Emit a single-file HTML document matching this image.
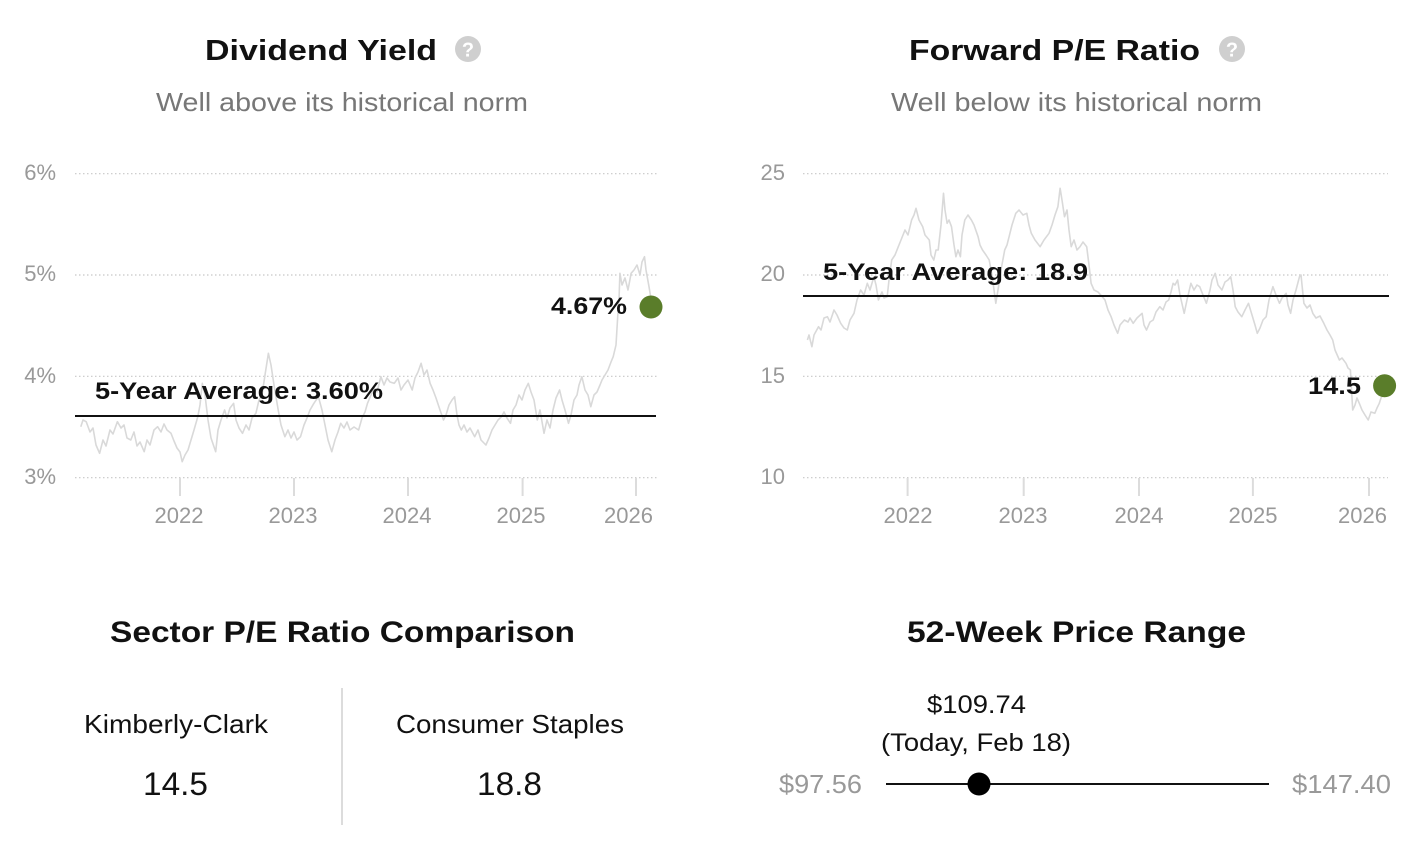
<!DOCTYPE html>
<html>
<head>
<meta charset="utf-8">
<style>
html,body{margin:0;padding:0;background:#fff;}
svg{display:block;}
text{font-family:"Liberation Sans",sans-serif;}
</style>
</head>
<body>
<svg width="1416" height="852" viewBox="0 0 1416 852" xmlns="http://www.w3.org/2000/svg">
<rect width="1416" height="852" fill="#fff"/>

<!-- ===== Left: Dividend Yield ===== -->
<text x="205" y="60" font-size="29" font-weight="bold" fill="#111" textLength="232" lengthAdjust="spacingAndGlyphs">Dividend Yield</text>
<circle cx="468" cy="49" r="13" fill="#cfcfcf"/>
<text x="468" y="56.5" font-size="20" font-weight="bold" fill="#fff" text-anchor="middle">?</text>
<text x="156" y="111" font-size="26" fill="#777" textLength="372" lengthAdjust="spacingAndGlyphs">Well above its historical norm</text>

<g stroke="#c8c8c8" stroke-width="1.2" stroke-dasharray="1.5 2.5">
<line x1="75" y1="173.7" x2="657" y2="173.7"/>
<line x1="75" y1="275" x2="657" y2="275"/>
<line x1="75" y1="376.3" x2="657" y2="376.3"/>
<line x1="75" y1="477.7" x2="657" y2="477.7"/>
</g>
<g font-size="22" fill="#999" text-anchor="end">
<text x="56" y="180">6%</text>
<text x="56" y="281">5%</text>
<text x="56" y="383">4%</text>
<text x="56" y="484">3%</text>
</g>
<g stroke="#dcdcdc" stroke-width="2">
<line x1="180" y1="478" x2="180" y2="496"/>
<line x1="294" y1="478" x2="294" y2="496"/>
<line x1="408" y1="478" x2="408" y2="496"/>
<line x1="522.6" y1="478" x2="522.6" y2="496"/>
<line x1="636" y1="478" x2="636" y2="496"/>
</g>
<g font-size="22" fill="#999" text-anchor="middle">
<text x="179" y="523">2022</text>
<text x="293" y="523">2023</text>
<text x="407" y="523">2024</text>
<text x="521" y="523">2025</text>
<text x="628.5" y="523">2026</text>
</g>
<polyline fill="none" stroke="#d9d9d9" stroke-width="1.6" stroke-linejoin="round" points="80.8,426.7 83,420 86.2,421.7 90,432 93,428 96,445 99.6,453.3 103,440 106,446 110,430 113,434 117.4,421.7 121,428 124,425 127,438 130.8,440 134,432 137,446 140,442 144.2,451.7 147,440 150,445 154,430 157.6,426.7 161,432 164,424 167,430 171,433.3 174,441 177,448 180,452 182.2,461.7 185,455 188,450 191,440 194,430 197.8,416.7 200,405 202.3,383.3 205,395 208,420 211,438 215.7,451.7 218,430 221,420 224.6,410 227,418 230,408 233.6,403.3 236,420 239,428 242.5,433.3 246,425 249,430 252,418 255.9,413.3 259,400 262,395 265,375 268.4,353.3 271,365 274,385 278.2,410 281,425 284.9,436.7 288,430 291,438 294,432 297,440 300.5,436.7 304,425 307,418 310,410 313.9,403.3 318.4,396.7 322,410 325,425 328,440 331.8,451.7 335,440 338,432 340.7,423.3 344,428 347,422 350,430 354,427 358.6,430 362,418 365,412 367.5,403.3 371,395 374,388 377,392 380.9,376.7 384,385 387,378 390,382 394.3,383.3 398,378 401,390 404,385 408,380 412.2,390 415,378 418,372 421.1,363.3 424,375 427,370 430.1,383.3 433,390 436,398 440,410 443.5,420 446,415 449,405 452,400 454.6,396.7 457,415 459,425 461.3,430 464,425 467,432 470,428 474.7,436.7 478,430 481,440 485.9,445 489,438 492,430 495,425 498,420 501.5,416.7 504,412 507,418 510.5,423.3 513,410 516,405 519,395 522,400 525,390 528.3,383.3 531,392 534,400 537.3,420 540,410 544,433.3 547,420 550,428 553,410 556,398 559.6,390 562,400 565,410 568.5,423.3 571,415 574,400 577,395 579,385 581.9,376.7 585,390 588,395 590.8,406.7 594,395 597,392 600,385 602,380 605,375 608,370 611,362 613.2,356.7 616,345 617.7,316.7 619,300 619.9,273.3 622,285 625,278 628,290 631.1,273.3 634,270 637,265 640,275 642,262 644.5,256.7 646,270 649,286.7 651.2,300"/>
<line x1="75" y1="416" x2="656" y2="416" stroke="#111" stroke-width="2"/>
<text x="95" y="399" font-size="24" font-weight="bold" fill="#111" textLength="288" lengthAdjust="spacingAndGlyphs">5-Year Average: 3.60%</text>
<text x="551" y="314" font-size="24" font-weight="bold" fill="#111" textLength="76" lengthAdjust="spacingAndGlyphs">4.67%</text>
<circle cx="651" cy="307" r="11.5" fill="#5a7d2a"/>

<!-- ===== Right: Forward P/E ===== -->
<text x="909" y="60" font-size="29" font-weight="bold" fill="#111" textLength="291" lengthAdjust="spacingAndGlyphs">Forward P/E Ratio</text>
<circle cx="1232" cy="49" r="13" fill="#cfcfcf"/>
<text x="1232" y="56.5" font-size="20" font-weight="bold" fill="#fff" text-anchor="middle">?</text>
<text x="891" y="111" font-size="26" fill="#777" textLength="371" lengthAdjust="spacingAndGlyphs">Well below its historical norm</text>

<g stroke="#c8c8c8" stroke-width="1.2" stroke-dasharray="1.5 2.5">
<line x1="803" y1="173.7" x2="1388" y2="173.7"/>
<line x1="803" y1="275" x2="1388" y2="275"/>
<line x1="803" y1="376.3" x2="1388" y2="376.3"/>
<line x1="803" y1="477.7" x2="1388" y2="477.7"/>
</g>
<g font-size="22" fill="#999" text-anchor="end">
<text x="785" y="180">25</text>
<text x="785" y="281">20</text>
<text x="785" y="383">15</text>
<text x="785" y="484">10</text>
</g>
<g stroke="#dcdcdc" stroke-width="2">
<line x1="907.6" y1="478" x2="907.6" y2="496"/>
<line x1="1023.7" y1="478" x2="1023.7" y2="496"/>
<line x1="1139" y1="478" x2="1139" y2="496"/>
<line x1="1252.9" y1="478" x2="1252.9" y2="496"/>
<line x1="1369" y1="478" x2="1369" y2="496"/>
</g>
<g font-size="22" fill="#999" text-anchor="middle">
<text x="908" y="523">2022</text>
<text x="1023" y="523">2023</text>
<text x="1139" y="523">2024</text>
<text x="1253" y="523">2025</text>
<text x="1362.5" y="523">2026</text>
</g>
<polyline fill="none" stroke="#d9d9d9" stroke-width="1.6" stroke-linejoin="round" points="807.4,340 809,335 811.9,346.7 814,335 818.5,326.7 821,330 824,318 827.4,316.7 830,322 834,310 837,315 840.7,323.3 844,328 847.3,330 850,320 854,313.3 857,300 860.6,290 864,295 867.3,283.3 870,290 873.9,276.7 876,285 878.4,300 882,292 884,298 887.2,296.7 889,280 891.7,260 895,255 898.3,246.7 901,240 905,230 908,235 911.6,220 914,215 916,208.3 919,220 922.7,226.7 925,235 929.3,240 931,255 933.8,260 936,250 938.2,250 941,225 943.5,193.3 945,210 947.1,223.3 949,220 951.5,226.7 954,245 955.9,256.7 958,250 960.4,256.7 962,235 964.8,220 968,215 971.4,220 974,225 978.1,236.7 980,245 982.5,250 986,255 989.2,260 992,275 995.8,303.3 998,290 1001,270 1004.7,250 1007,245 1009.1,236.7 1012,225 1015.8,213.3 1019,210 1023,215 1026.8,213.3 1029,225 1031.3,233.3 1035,240 1040.1,246.7 1044,240 1049,233.3 1052,225 1055,215 1057.9,206.7 1060.1,188.3 1062,200 1064.5,216.7 1067,210 1069,230 1071.2,246.7 1074,240 1077,250 1080,246.7 1083,242 1086.7,246.7 1089,265 1091.1,283.3 1094,290 1098,292 1102.2,296.7 1105,300 1108,310 1111.1,316.7 1114,325 1117.7,333.3 1120,325 1124.4,320 1128,322 1130,318 1133.2,323.3 1137,318 1142.1,313.3 1144,325 1146.5,330 1150,322 1153.2,320 1156,312 1159.8,306.7 1163,310 1166,302 1168.7,300 1171,292 1173.1,283.3 1175,285 1177.6,280 1180,295 1184.2,313.3 1187,300 1190.9,283.3 1194,290 1197,285 1199.7,286.7 1203,295 1206.4,303.3 1210,290 1212,280 1215.2,273.3 1218,285 1221.9,290 1225,282 1228,280 1230.7,276.7 1233,290 1235.2,306.7 1238,312 1241.8,316.7 1245,310 1248.5,303.3 1252,315 1255,325 1257.3,333.3 1260,328 1263,320 1266.2,316.7 1269,300 1272.9,286.7 1276,295 1279.5,303.3 1282,298 1286.2,293.3 1288,305 1290.6,313.3 1293,300 1296,290 1299.5,276.7 1301,275 1303.9,303.3 1307,308 1310,305 1312.8,313.3 1316,318 1320,316 1323.8,323.3 1327,330 1330,335 1332.7,340 1335,350 1339.4,360 1342,358 1346,363.3 1348,368 1350.4,370 1352.7,410 1355,405 1357,398 1359.3,403.3 1362,410 1365,415 1368.2,420 1371,412 1374.8,413.3 1377,408 1379.3,403.3 1381,398 1383.7,393.3"/>
<line x1="803" y1="296" x2="1389" y2="296" stroke="#111" stroke-width="2"/>
<text x="823" y="280" font-size="24" font-weight="bold" fill="#111" textLength="265" lengthAdjust="spacingAndGlyphs">5-Year Average: 18.9</text>
<text x="1308" y="394" font-size="24" font-weight="bold" fill="#111" textLength="53" lengthAdjust="spacingAndGlyphs">14.5</text>
<circle cx="1384.6" cy="385.7" r="11.5" fill="#5a7d2a"/>

<!-- ===== Bottom left: Sector P/E ===== -->
<text x="110" y="642" font-size="30" font-weight="bold" fill="#111" textLength="465" lengthAdjust="spacingAndGlyphs">Sector P/E Ratio Comparison</text>
<line x1="342" y1="688" x2="342" y2="825" stroke="#d0d0d0" stroke-width="1.5"/>
<text x="84" y="733" font-size="26" fill="#111" textLength="184" lengthAdjust="spacingAndGlyphs">Kimberly-Clark</text>
<text x="396" y="733" font-size="26" fill="#111" textLength="228" lengthAdjust="spacingAndGlyphs">Consumer Staples</text>
<text x="143" y="795" font-size="32" fill="#111" textLength="65" lengthAdjust="spacingAndGlyphs">14.5</text>
<text x="477" y="795" font-size="32" fill="#111" textLength="65" lengthAdjust="spacingAndGlyphs">18.8</text>

<!-- ===== Bottom right: 52-week range ===== -->
<text x="907" y="642" font-size="30" font-weight="bold" fill="#111" textLength="339" lengthAdjust="spacingAndGlyphs">52-Week Price Range</text>
<text x="927" y="713" font-size="25" fill="#111" textLength="99" lengthAdjust="spacingAndGlyphs">$109.74</text>
<text x="881" y="751" font-size="25" fill="#111" textLength="190" lengthAdjust="spacingAndGlyphs">(Today, Feb 18)</text>
<text x="779" y="793" font-size="26" fill="#999" textLength="83" lengthAdjust="spacingAndGlyphs">$97.56</text>
<text x="1292" y="793" font-size="26" fill="#999" textLength="99" lengthAdjust="spacingAndGlyphs">$147.40</text>
<line x1="886" y1="784" x2="1269" y2="784" stroke="#111" stroke-width="2"/>
<circle cx="979" cy="784" r="11.5" fill="#000"/>
</svg>
</body>
</html>
